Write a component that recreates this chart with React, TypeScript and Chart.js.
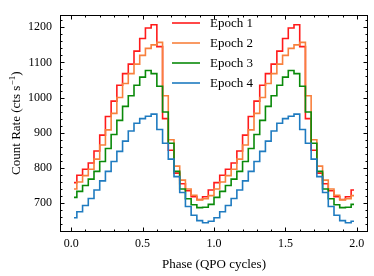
import React, { useEffect, useRef } from "react";
import { Chart, registerables } from "chart.js";

Chart.register(...registerables);

// Phase bin centres (QPO cycles)
const phase = [
  0.02, 0.06, 0.10, 0.14, 0.18, 0.22, 0.26, 0.30, 0.34, 0.38, 0.42, 0.46, 0.50,
  0.54, 0.58, 0.62, 0.66, 0.70, 0.74, 0.78, 0.82, 0.86, 0.90, 0.94, 0.98,
  1.02, 1.06, 1.10, 1.14, 1.18, 1.22, 1.26, 1.30, 1.34, 1.38, 1.42, 1.46, 1.50,
  1.54, 1.58, 1.62, 1.66, 1.70, 1.74, 1.78, 1.82, 1.86, 1.90, 1.94, 1.98,
];

const epoch1 = [
  758, 779, 796, 814, 848, 893, 946, 990, 1035, 1068, 1095, 1132, 1168, 1198, 1207, 1145, 940, 850, 785, 755, 735, 718, 710, 718, 737,
  758, 779, 796, 814, 848, 893, 946, 990, 1035, 1068, 1095, 1132, 1168, 1198, 1207, 1145, 940, 850, 785, 755, 735, 718, 710, 718, 737,
];
const epoch2 = [
  740, 760, 778, 796, 825, 865, 908, 955, 1000, 1040, 1068, 1095, 1120, 1140, 1150, 1157, 1005, 880, 805, 765, 740, 722, 709, 712, 721,
  740, 760, 778, 796, 825, 865, 908, 955, 1000, 1040, 1068, 1095, 1120, 1140, 1150, 1157, 1005, 880, 805, 765, 740, 722, 709, 712, 721,
];
const epoch3 = [
  716, 733, 750, 768, 790, 818, 855, 895, 935, 975, 1005, 1035, 1058, 1077, 1068, 1032, 959, 870, 790, 740, 712, 695, 687, 688, 696,
  716, 733, 750, 768, 790, 818, 855, 895, 935, 975, 1005, 1035, 1058, 1077, 1068, 1032, 959, 870, 790, 740, 712, 695, 687, 688, 696,
];
const epoch4 = [
  658, 675, 693, 713, 737, 763, 790, 818, 847, 876, 905, 927, 940, 947, 953, 909, 870, 825, 775, 730, 690, 665, 650, 644, 648,
  658, 675, 693, 713, 737, 763, 790, 818, 847, 876, 905, 927, 940, 947, 953, 909, 870, 825, 775, 730, 690, 665, 650, 644, 648,
];

const seriesLabels = ["Epoch 1", "Epoch 2", "Epoch 3", "Epoch 4"];
const seriesColors = ["#ff1a1a", "#f8803d", "#0a8a0a", "#1f7bc0"];

const xTickLabels = [0.0, 0.5, 1.0, 1.5, 2.0];
const yTickLabels = [700, 800, 900, 1000, 1100, 1200];
const xMinorTicks = [0.1, 0.2, 0.3, 0.4, 0.6, 0.7, 0.8, 0.9, 1.1, 1.2, 1.3, 1.4, 1.6, 1.7, 1.8, 1.9];
const yMinorTicks = [640, 660, 680, 720, 740, 760, 780, 820, 840, 860, 880, 920, 940, 960, 980, 1020, 1040, 1060, 1080, 1120, 1140, 1160, 1180, 1220];

const yTitleMain = "Count Rate (cts s";
const yTitleSup = "\u22121";
const yTitleEnd = ")";

const FONT = "'Liberation Serif', 'Times New Roman', serif";

const framePlugin = {
  id: "frameTicksLegend",
  afterDraw(chart: any) {
    const ctx = chart.ctx;
    const { left, right, top, bottom } = chart.chartArea;
    const xs = chart.scales.x;
    const ys = chart.scales.y;
    ctx.save();
    ctx.strokeStyle = "#000";
    ctx.lineWidth = 1;
    ctx.strokeRect(Math.round(left) + 0.5, Math.round(top) + 0.5, Math.round(right - left) - 1, Math.round(bottom - top));
    const tick = (x1: number, y1: number, x2: number, y2: number) => {
      ctx.beginPath();
      ctx.moveTo(x1, y1);
      ctx.lineTo(x2, y2);
      ctx.stroke();
    };
    const L = Math.round(left) + 0.5;
    const R = Math.round(right) - 0.5;
    const T = Math.round(top) + 0.5;
    const B = Math.round(bottom) + 0.5;
    yTickLabels.forEach((v) => {
      const y = Math.round(ys.getPixelForValue(v)) + 0.5;
      tick(L, y, L + 4, y);
      tick(R, y, R - 4, y);
    });
    yMinorTicks.forEach((v) => {
      const y = Math.round(ys.getPixelForValue(v)) + 0.5;
      tick(L, y, L + 2, y);
      tick(R, y, R - 2, y);
    });
    xTickLabels.forEach((v) => {
      const x = Math.round(xs.getPixelForValue(v)) + 0.5;
      tick(x, B, x, B - 4);
      tick(x, T, x, T + 4);
    });
    xMinorTicks.forEach((v) => {
      const x = Math.round(xs.getPixelForValue(v)) + 0.5;
      tick(x, B, x, B - 2);
      tick(x, T, x, T + 2);
    });
    // legend
    ctx.font = `13px ${FONT}`;
    ctx.textBaseline = "middle";
    ctx.textAlign = "left";
    seriesLabels.forEach((lab, i) => {
      const y = 23 + i * 20;
      ctx.strokeStyle = seriesColors[i];
      ctx.lineWidth = 1.6;
      tick(172, y, 200, y);
      ctx.fillStyle = "#000";
      ctx.fillText(lab, 210, y + 1);
    });
    // y-axis title with superscript
    const mainFont = `13px ${FONT}`;
    const supFont = `9px ${FONT}`;
    ctx.font = mainFont;
    const w1 = ctx.measureText(yTitleMain).width;
    const w3 = ctx.measureText(yTitleEnd).width;
    ctx.font = supFont;
    const w2 = ctx.measureText(yTitleSup).width;
    const total = w1 + w2 + w3 + 0.5;
    const cy = (top + bottom) / 2;
    ctx.translate(20, cy);
    ctx.rotate(-Math.PI / 2);
    ctx.fillStyle = "#000";
    ctx.textBaseline = "alphabetic";
    ctx.textAlign = "left";
    let x0 = -total / 2;
    ctx.font = mainFont;
    ctx.fillText(yTitleMain, x0, 0);
    x0 += w1 + 0.5;
    ctx.font = supFont;
    ctx.fillText(yTitleSup, x0, -5);
    x0 += w2;
    ctx.font = mainFont;
    ctx.fillText(yTitleEnd, x0, 0);
    ctx.restore();
  },
};

export default function App() {
  const ref = useRef<HTMLCanvasElement | null>(null);
  useEffect(() => {
    document.body.style.margin = "0";
    const series = [epoch1, epoch2, epoch3, epoch4];
    const chart = new Chart(ref.current as HTMLCanvasElement, {
      type: "line",
      data: {
        datasets: series.map((s, i) => ({
          label: seriesLabels[i],
          data: s.map((v, j) => ({ x: phase[j], y: v })),
          borderColor: seriesColors[i],
          backgroundColor: seriesColors[i],
          borderWidth: 1.6,
          pointRadius: 0,
          stepped: "middle" as const,
          fill: false,
          order: 4 - i,
        })),
      },
      options: {
        animation: false,
        responsive: false,
        devicePixelRatio: 1,
        layout: { padding: { top: 6, right: 6, left: 0, bottom: 0 } },
        plugins: { legend: { display: false }, tooltip: { enabled: false } },
        scales: {
          x: {
            type: "linear",
            min: -0.078,
            max: 2.078,
            grid: { display: false, drawTicks: false },
            border: { display: false },
            afterBuildTicks: (s: any) => {
              s.ticks = xTickLabels.map((v) => ({ value: v }));
            },
            afterFit: (s: any) => {
              s.height = 45;
            },
            ticks: {
              color: "#000",
              padding: 6,
              maxRotation: 0,
              autoSkip: false,
              font: { family: FONT, size: 12 },
              callback: (v: any) => Number(v).toFixed(1),
            },
            title: {
              display: true,
              text: "Phase (QPO cycles)",
              color: "#000",
              font: { family: FONT, size: 13 },
              padding: { top: 0, bottom: 4 },
            },
          },
          y: {
            type: "linear",
            min: 620.4,
            max: 1234.3,
            grid: { display: false, drawTicks: false },
            border: { display: false },
            afterBuildTicks: (s: any) => {
              s.ticks = yTickLabels.map((v) => ({ value: v }));
            },
            afterFit: (s: any) => {
              s.width = 60;
            },
            ticks: {
              color: "#000",
              padding: 8,
              autoSkip: false,
              font: { family: FONT, size: 12 },
              callback: (v: any) => String(v),
            },
          },
        },
      },
      plugins: [framePlugin],
    });
    return () => chart.destroy();
  }, []);
  return (
    <div style={{ width: 374, height: 276 }}>
      <canvas ref={ref} width={374} height={276} style={{ display: "block" }} />
    </div>
  );
}
